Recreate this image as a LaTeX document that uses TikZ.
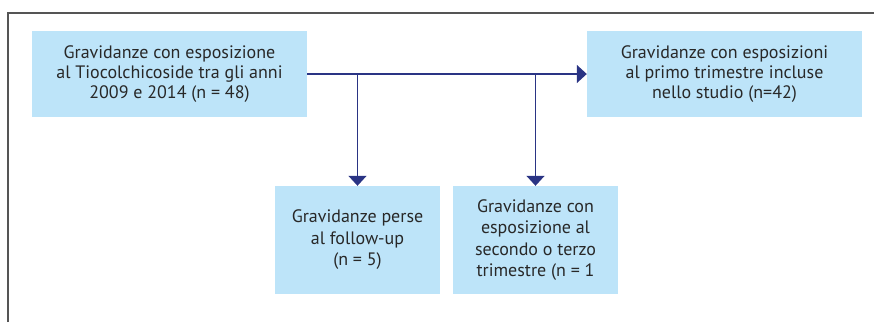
\documentclass[tikz,border=0pt]{standalone}
\usepackage{fontspec}
\setmainfont{PT Sans}
\usetikzlibrary{arrows.meta}

\definecolor{boxblue}{RGB}{189,228,249}
\definecolor{arrowblue}{RGB}{42,52,132}
\definecolor{framegray}{RGB}{85,85,85}
\definecolor{textgray}{RGB}{40,40,40}

\tikzstyle{box}=[rectangle,fill=boxblue,text=textgray,align=center,inner sep=0pt,minimum width=275pt,minimum height=86pt]
\tikzstyle{smallbox}=[box,minimum width=165pt,minimum height=108pt,font=\fontsize{18}{21.5}\selectfont]
\tikzstyle{flow}=[arrowblue,line width=1.5pt,-{Triangle[width=18pt,length=10pt]}]

\begin{document}
\begin{tikzpicture}[x=1pt,y=-1pt,font=\fontsize{18}{20}\selectfont]
\useasboundingbox (0,0) rectangle (874,322);
% frame
\draw[framegray,line width=1.8pt] (8,322) -- (8,13) -- (874,13);

\node[box] (start) at (169.5,74) {Gravidanze con esposizione\\al Tiocolchicoside tra gli anni\\2009 e 2014 (n = 48)};
\node[box] (incl) at (724.5,74) {Gravidanze con esposizioni\\al primo trimestre incluse\\nello studio (n=42)};
\node[smallbox] (lost) at (357.5,240) {Gravidanze perse\\al follow-up\\(n = 5)};
\node[smallbox] (later) at (535.5,240) {Gravidanze con\\esposizione al\\secondo o terzo\\trimestre (n = 1};

\draw[flow] (start) -- (incl);
\draw[flow] (lost.north |- start.east) -- (lost.north);
\draw[flow] (later.north |- start.east) -- (later.north);
\end{tikzpicture}
\end{document}
